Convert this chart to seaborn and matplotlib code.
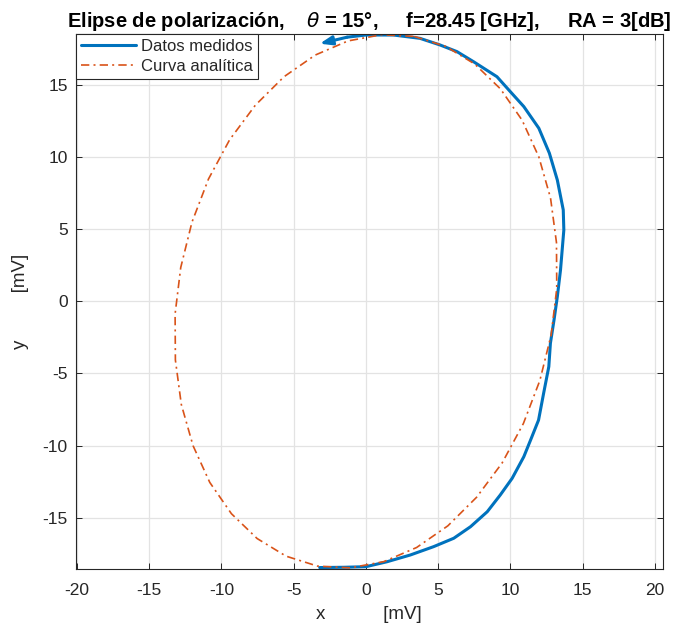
import matplotlib
matplotlib.use("Agg")
import matplotlib.pyplot as plt
import seaborn as sns
import pandas as pd

meas_x = [-3.2, -1.5, 0.0, 1.45, 3.07, 4.69, 6.08, 7.24, 8.4, 9.3, 10.12, 10.93,
          11.4, 11.95, 12.3, 12.66, 12.77, 13.02, 13.25, 13.47, 13.7, 13.66,
          13.25, 12.7, 11.97, 10.93, 10.0, 9.07, 7.45, 6.3, 5.13, 3.74, 1.9,
          0.0, -1.3]
meas_y = [-18.45, -18.43, -18.39, -18.05, -17.58, -17.0, -16.42, -15.62, -14.58,
          -13.42, -12.27, -10.77, -9.61, -8.23, -6.38, -4.53, -2.91, -1.3, 0.32,
          2.17, 4.94, 6.33, 8.4, 10.26, 11.99, 13.49, 14.52, 15.56, 16.6, 17.3,
          17.76, 18.22, 18.45, 18.45, 18.3]
arrow_tip = (-3.2, 17.85)

# Analytic ellipse, points (clockwise from the top, closed)
ana_x = [3.35, 5.53, 7.53, 9.31, 10.81, 11.97, 12.78, 13.19, 13.21, 12.82,
         12.04, 10.90, 9.43, 7.66, 5.67, 3.51, 1.24, -1.08, -3.35, -5.53,
         -7.53, -9.31, -10.81, -11.97, -12.78, -13.19, -13.21, -12.82, -12.04,
         -10.90, -9.43, -7.66, -5.67, -3.51, -1.24, 1.08, 3.35]
ana_y = [18.35, 17.66, 16.44, 14.72, 12.55, 10.00, 7.15, 4.07, 0.88, -2.34,
         -5.49, -8.47, -11.20, -13.58, -15.56, -17.06, -18.04, -18.47, -18.35,
         -17.66, -16.44, -14.72, -12.55, -10.00, -7.15, -4.07, -0.88, 2.34,
         5.49, 8.47, 11.20, 13.58, 15.56, 17.06, 18.04, 18.47, 18.35]

x_ticks = list(range(-20, 21, 5))
y_ticks = list(range(-15, 16, 5))

sns.set_theme(style="whitegrid")
plt.rcParams['font.family'] = ['Liberation Sans', 'DejaVu Sans']
plt.rcParams['mathtext.fontset'] = 'dejavusans'

blue = '#0072BD'
orange = '#D95319'
dark = '#262626'

fig = plt.figure(figsize=(6.84, 6.35), dpi=100)
ax = fig.add_axes([76 / 684, 1 - 569 / 635, (662.5 - 76) / 684, (569 - 34) / 635])

meas = pd.DataFrame({'x': meas_x, 'y': meas_y})
ana = pd.DataFrame({'x': ana_x, 'y': ana_y})

sns.lineplot(data=meas, x='x', y='y', sort=False, estimator=None, ax=ax,
             color=blue, linewidth=2.2, label='Datos medidos')
sns.lineplot(data=ana, x='x', y='y', sort=False, estimator=None, ax=ax,
             color=orange, linewidth=1.2, linestyle=(0, (5, 2.5, 1.2, 2.5)),
             label='Curva analítica')
ax.annotate('', xy=arrow_tip, xytext=(meas_x[-1], meas_y[-1]),
            arrowprops=dict(arrowstyle='-|>,head_length=0.6,head_width=0.22',
                            color=blue, lw=2.2, shrinkA=0, shrinkB=0))

ax.set_xlim(-20.07, 20.53)
ax.set_ylim(-18.55, 18.52)
ax.set_xticks(x_ticks)
ax.set_yticks(y_ticks)
ax.set_xticklabels([str(t) for t in x_ticks])
ax.set_yticklabels([str(t) for t in y_ticks])

ax.set_facecolor('white')
ax.grid(True, color='#e3e3e3', linewidth=0.9)
for s in ax.spines.values():
    s.set_color(dark)
    s.set_linewidth(0.8)
ax.tick_params(direction='in', length=4, width=0.7, color=dark,
               labelsize=12.5, labelcolor=dark, top=True, right=True,
               bottom=True, left=True)
ax.tick_params(axis='x', pad=10)
ax.tick_params(axis='y', pad=6)

ax.set_xlabel('x           [mV]', fontsize=13.5, color=dark, labelpad=6)
ax.set_ylabel('y         [mV]', fontsize=13.5, color=dark, labelpad=8)
ax.yaxis.set_label_coords(-0.08, 0.5)
ax.set_title('Elipse de polarización,    $\\theta$ = 15°,     f=28.45 [GHz],     RA = 3[dB]',
             fontsize=14.5, fontweight='bold', color='black', pad=5)

leg = ax.legend(loc='upper left', fontsize=12, frameon=True, fancybox=False,
                handlelength=3.3, borderaxespad=0, borderpad=0.3,
                labelspacing=0.3, handletextpad=0.3)
leg.get_frame().set_edgecolor(dark)
leg.get_frame().set_linewidth(0.8)
leg.get_frame().set_alpha(1)

fig.savefig('out.png', dpi=100)
